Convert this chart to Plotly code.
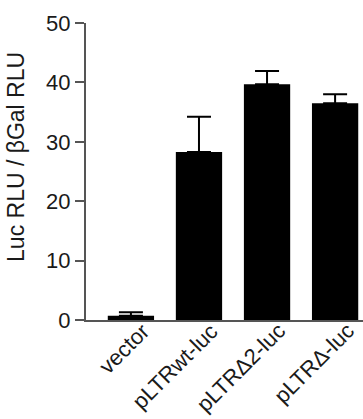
import plotly.graph_objects as go

categories = ["vector", "pLTRwt-luc", "pLTRΔ2-luc", "pLTRΔ-luc"]
values = [0.7, 28.3, 39.7, 36.5]
errors = [0.6, 5.9, 2.2, 1.5]
y_ticks = [0, 10, 20, 30, 40, 50]

FONT = "Liberation Sans, Arial, Helvetica, sans-serif"
TXT = "#1a1a1a"

fig = go.Figure()
fig.add_trace(go.Bar(
    x=list(range(len(categories))),
    y=values,
    marker=dict(color="black", line=dict(width=0)),
    error_y=dict(type="data", array=errors, arrayminus=[0] * len(errors),
                 symmetric=False, color="black", thickness=2, width=12),
    width=0.68,
))

for i, lab in enumerate(categories):
    fig.add_annotation(
        x=i, y=0, xref="x", yref="y", text=lab, showarrow=False,
        textangle=-45, xanchor="right", yanchor="top",
        xshift=25, yshift=3, borderpad=0,
        font=dict(size=22, family=FONT, color=TXT),
    )

fig.add_annotation(
    x=0, y=0.549, xref="paper", yref="paper", text="Luc RLU / βGal RLU",
    showarrow=False, textangle=-90, xanchor="center", yanchor="middle",
    xshift=-70, font=dict(size=23, family=FONT, color=TXT),
)

fig.update_layout(
    width=363, height=419,
    margin=dict(l=86, r=0, t=23, b=99),
    paper_bgcolor="white", plot_bgcolor="white",
    showlegend=False,
    font=dict(family=FONT, color=TXT),
    xaxis=dict(
        range=[-0.66, 3.41],
        tickmode="array", tickvals=list(range(len(categories))),
        showticklabels=False,
        showline=True, linecolor="#555", linewidth=2,
        ticks="", showgrid=False, zeroline=False,
    ),
    yaxis=dict(
        range=[0, 50],
        tickmode="array", tickvals=y_ticks,
        tickfont=dict(size=22, family=FONT, color=TXT),
        ticks="outside", ticklen=9, tickwidth=2, tickcolor="#555",
        showline=True, linecolor="#555", linewidth=2,
        showgrid=False, zeroline=False,
    ),
)

fig.write_html("out.html")
